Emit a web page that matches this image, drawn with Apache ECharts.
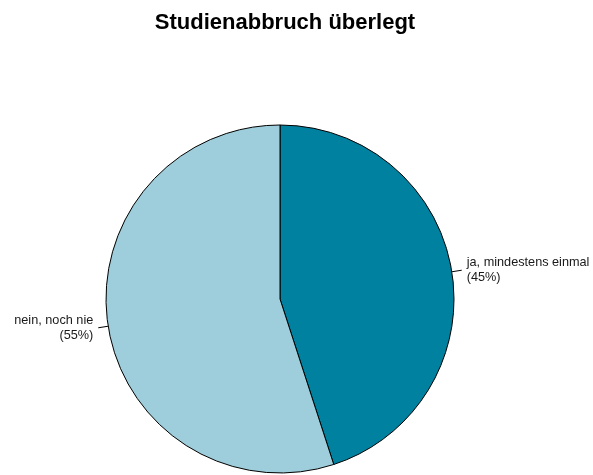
<!DOCTYPE html>
<html>
<head>
<meta charset="utf-8">
<script src="https://cdn.jsdelivr.net/npm/echarts@6/dist/echarts.min.js"></script>
<style>
html, body { margin: 0; padding: 0; background: #fff; }
#chart { width: 593px; height: 475px; }
</style>
</head>
<body>
<div id="chart"></div>
<script>
var categories = ['ja, mindestens einmal', 'nein, noch nie'];
var shares = [45, 55];
var colors = ['#00819F', '#9ECEDB'];

var myChart = echarts.init(document.getElementById('chart'));
var option = {
    backgroundColor: '#ffffff',
    animation: false,
    title: {
        text: 'Studienabbruch überlegt',
        left: 280,
        textAlign: 'center',
        top: 7,
        textStyle: {
            fontFamily: 'Liberation Sans',
            fontSize: 22,
            fontWeight: 'bold',
            color: '#000'
        }
    },
    series: [{
        type: 'pie',
        center: [280, 299],
        radius: 174,
        startAngle: 90,
        clockwise: true,
        avoidLabelOverlap: false,
        label: {
            show: true,
            position: 'outside',
            formatter: '{b}\n({d}%)',
            fontFamily: 'Liberation Sans',
            fontSize: 12.7,
            lineHeight: 15,
            color: '#1a1a1a',
            distanceToLabelLine: 5
        },
        labelLine: {
            show: true,
            length: 10,
            length2: 0,
            lineStyle: { color: '#000', width: 1 }
        },
        itemStyle: {
            borderColor: '#000',
            borderWidth: 1
        },
        emphasis: { disabled: true },
        data: categories.map(function (name, i) {
            return { name: name, value: shares[i], itemStyle: { color: colors[i] } };
        })
    }]
};
myChart.setOption(option);
</script>
</body>
</html>
